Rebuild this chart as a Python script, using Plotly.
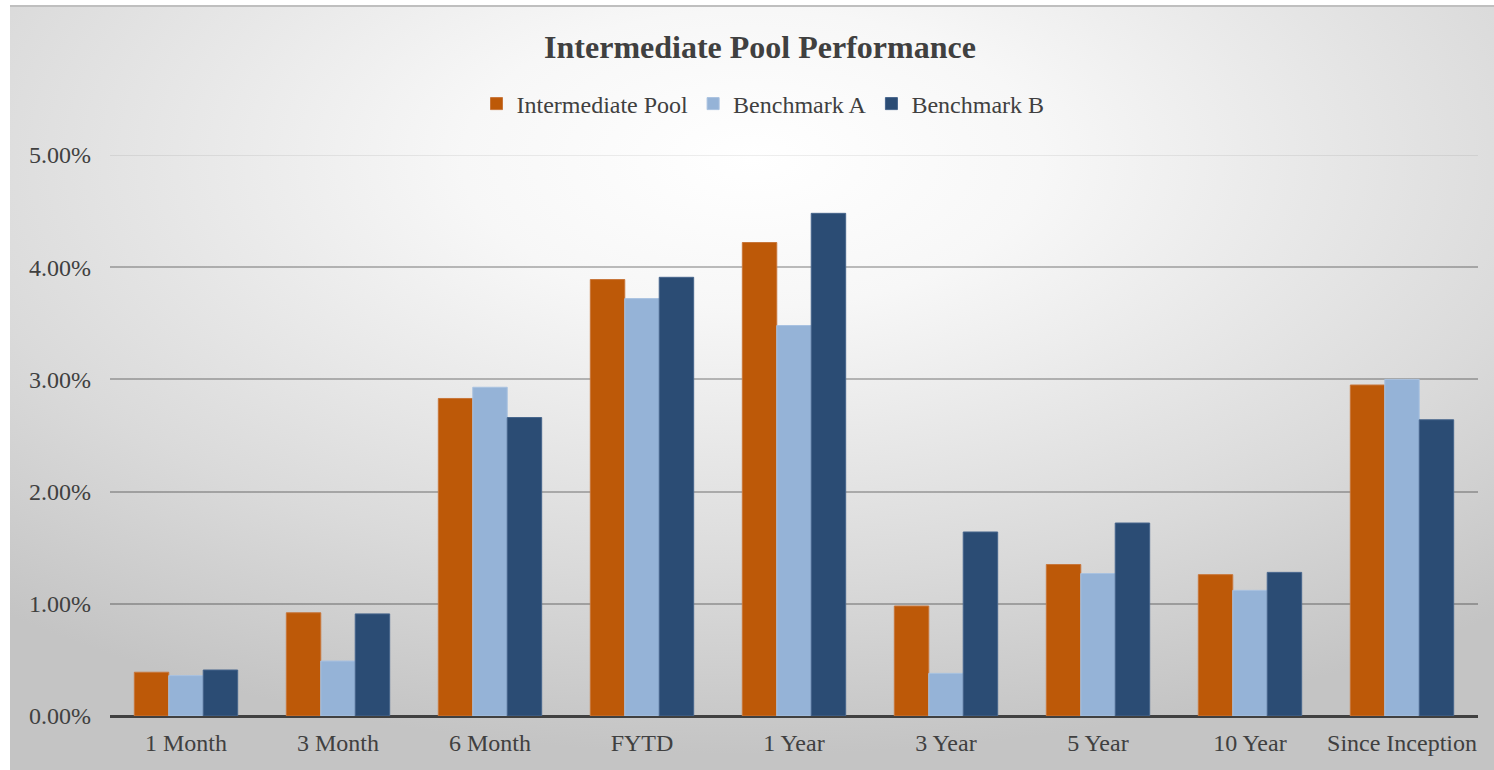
import plotly.graph_objects as go
import urllib.parse

categories = ["1 Month", "3 Month", "6 Month", "FYTD", "1 Year", "3 Year", "5 Year", "10 Year", "Since Inception"]
intermediate_pool = [0.39, 0.92, 2.83, 3.89, 4.22, 0.98, 1.35, 1.26, 2.95]
benchmark_a = [0.36, 0.49, 2.93, 3.72, 3.48, 0.38, 1.27, 1.12, 3.00]
benchmark_b = [0.41, 0.91, 2.66, 3.91, 4.48, 1.64, 1.72, 1.28, 2.64]
y_ticks = [0, 1, 2, 3, 4, 5]
y_tick_labels = ["0.00%", "1.00%", "2.00%", "3.00%", "4.00%", "5.00%"]

W, H = 1494, 770
ML, MR, MT, MB = 110, 16, 155, 54
PW = W - ML - MR
PH = H - MT - MB

FONT = "Liberation Serif, Times New Roman, serif"

fig = go.Figure()
series = [
    ("Intermediate Pool", intermediate_pool, "#BD5908", "#C8763A"),
    ("Benchmark A", benchmark_a, "#95B3D7", "#A9C2E0"),
    ("Benchmark B", benchmark_b, "#2B4C74", "#46658C"),
]
for name, vals, col, edge in series:
    fig.add_trace(go.Bar(
        x=categories, y=[v / 100 for v in vals], name=name,
        marker=dict(color=col, line=dict(color=edge, width=1)),
    ))

svg = (
    '<svg xmlns="http://www.w3.org/2000/svg" width="1484" height="764" viewBox="0 0 1484 764" preserveAspectRatio="none">'
    '<defs><radialGradient id="g" cx="0.5" cy="0.2" r="0.78" fx="0.5" fy="0.2">'
    '<stop offset="0" stop-color="#FFFFFF"/>'
    '<stop offset="0.25" stop-color="#F7F7F7"/>'
    '<stop offset="0.7" stop-color="#DADADA"/>'
    '<stop offset="1" stop-color="#C4C4C4"/>'
    '</radialGradient></defs>'
    '<rect x="0" y="0" width="1484" height="764" fill="url(#g)"/></svg>'
)
src = "data:image/svg+xml;charset=utf-8," + urllib.parse.quote(svg)

def px_x(px):
    return (px - ML) / PW

def px_y(py):
    return (H - MB - py) / PH

fig.add_layout_image(dict(
    source=src, xref="paper", yref="paper",
    x=px_x(10), y=px_y(6), sizex=(W - 10) / PW, sizey=(H - 6) / PH,
    xanchor="left", yanchor="top", sizing="stretch", layer="below",
))
fig.add_shape(type="line", xref="paper", yref="paper",
              x0=px_x(10), x1=px_x(W), y0=px_y(6), y1=px_y(6),
              line=dict(color="#BFBFBF", width=2))
# faint top gridline at 5.00%
fig.add_shape(type="line", xref="paper", yref="y",
              x0=0, x1=1, y0=0.05, y1=0.05, layer="below",
              line=dict(color="rgba(0,0,0,0.09)", width=1.5))

fig.update_layout(
    width=W, height=H,
    margin=dict(l=ML, r=MR, t=MT, b=MB, autoexpand=False),
    paper_bgcolor="white",
    plot_bgcolor="rgba(0,0,0,0)",
    barmode="group",
    bargap=0.32,
    bargroupgap=0,
    font=dict(family=FONT, color="#404040", size=24),
    title=dict(text="<b>Intermediate Pool Performance</b>", x=px_x(760), xref="paper", xanchor="center",
               y=1 - 47 / H, yanchor="middle", font=dict(family=FONT, size=32, color="#404040")),
    legend=dict(orientation="h", x=px_x(763), xanchor="center", xref="paper",
                y=px_y(104), yanchor="middle", font=dict(family=FONT, size=24, color="#404040"),
                bgcolor="rgba(0,0,0,0)", itemwidth=30),
    showlegend=True,
    xaxis=dict(showgrid=False, showline=False, ticks="", tickfont=dict(size=24, color="#404040"),
               ticklabelstandoff=10, tickangle=0),
    yaxis=dict(range=[0, 0.05], tickvals=[t / 100 for t in y_ticks], ticktext=y_tick_labels,
               showgrid=True, gridcolor="rgba(0,0,0,0.25)", gridwidth=1.5,
               zeroline=True, zerolinecolor="#404040", zerolinewidth=3,
               showline=False, ticks="", tickfont=dict(size=24, color="#404040"),
               ticklabelstandoff=18),
)

fig.write_html("out.html", config={"displayModeBar": False},
               post_script="document.body.style.margin='0';")
